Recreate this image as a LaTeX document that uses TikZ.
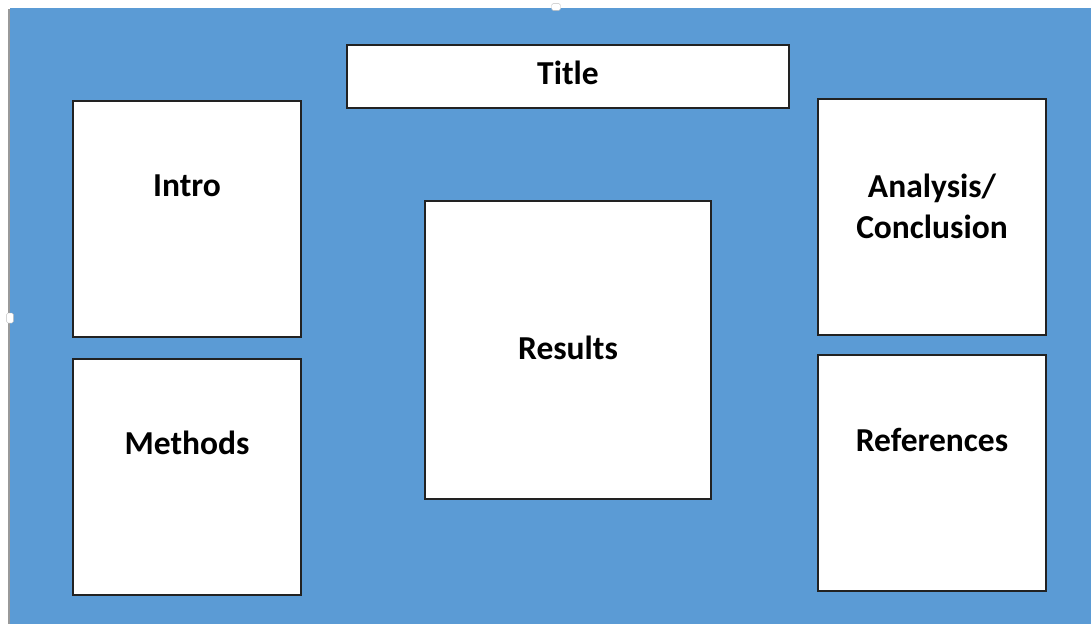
\documentclass[tikz,border=0pt]{standalone}
\usepackage{fontspec}
\setmainfont{Carlito}
\definecolor{bgblue}{HTML}{5B9BD5}
\definecolor{edge}{HTML}{222222}
\tikzset{
  panel/.style={draw=edge, line width=1.6pt, fill=white, inner sep=0pt},
  lbl/.style={font=\fontsize{33.5}{41}\selectfont\bfseries, text=black, align=center, inner sep=0pt},
  handle/.style={fill=white, draw=gray!50, line width=0.4pt, rounded corners=1.5pt}
}
\begin{document}
\begin{tikzpicture}[x=1pt,y=-1pt]
\useasboundingbox (0,0) rectangle (1091,624);
\fill[white] (0,0) rectangle (1091,624);
\fill[bgblue] (10,8) rectangle (1091,624);
\draw[gray!80, line width=1.5pt] (9,9) -- (9,624);
% boxes
\node[panel, minimum width=442pt, minimum height=63pt] (title) at (568,76.5) {};
\node[panel, minimum width=228pt, minimum height=236pt] (intro) at (187,219) {};
\node[panel, minimum width=228pt, minimum height=236pt] (methods) at (187,477) {};
\node[panel, minimum width=286pt, minimum height=298pt] (results) at (568,350) {};
\node[panel, minimum width=228pt, minimum height=236pt] (analysis) at (932,217) {};
\node[panel, minimum width=228pt, minimum height=236pt] (refs) at (932,473) {};
% labels
\node[lbl] (titlet) at (568,73) {Title};
\node[lbl] (introt) at (187,186) {Intro};
\node[lbl] (methodst) at (187,443) {Methods};
\node[lbl] (resultst) at (568,348) {Results};
\node[lbl] (analysist) at (932,206) {Analysis/\\Conclusion};
\node[lbl] (refst) at (932,440) {References};
% selection handles
\node[handle, minimum width=9pt, minimum height=5pt] (h1) at (556,7) {};
\node[handle, minimum width=6pt, minimum height=10pt] (h2) at (10,318) {};
\end{tikzpicture}
\end{document}
